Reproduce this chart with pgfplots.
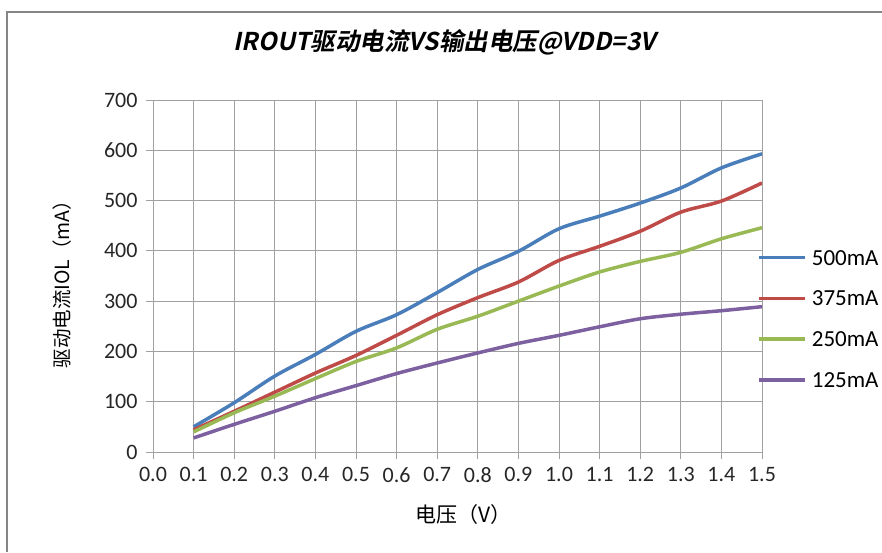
\documentclass[border=0pt]{standalone}
\usepackage{pgfplots}
\pgfplotsset{compat=1.18}
\usepackage{fontspec}
\setmainfont{Carlito}
\newfontfamily\cjk{Noto Sans CJK SC}
\newfontfamily\cjktitle[FakeSlant=0.2]{Noto Sans CJK SC Bold}
\definecolor{sblue}{HTML}{4A7EBB}
\definecolor{sred}{HTML}{BE4B48}
\definecolor{sgreen}{HTML}{98B954}
\definecolor{spurple}{HTML}{7D60A0}
\definecolor{gridgray}{HTML}{A0A0A0}
\definecolor{framegray}{HTML}{868686}
\begin{document}
\begin{tikzpicture}
\useasboundingbox (0pt,0pt) rectangle (882pt,552pt);
\draw[framegray, line width=2pt] (7pt,0pt) -- (7pt,540pt) -- (890pt,540pt);
\begin{axis}[
  at={(153pt,100pt)}, anchor=south west,
  scale only axis, width=609pt, height=352pt,
  xmin=0, xmax=1.5, ymin=0, ymax=700,
  xtick={0,0.1,0.2,0.3,0.4,0.5,0.6,0.7,0.8,0.9,1.0,1.1,1.2,1.3,1.4,1.5},
  xticklabels={0.0,0.1,0.2,0.3,0.4,0.5,0.6,0.7,0.8,0.9,1.0,1.1,1.2,1.3,1.4,1.5},
  ytick={0,100,200,300,400,500,600,700},
  /pgf/number format/assume math mode=true,
  ticklabel style={font=\fontsize{22}{26}\selectfont, text=black!85},
  xticklabel style={yshift=-5pt},
  yticklabel style={xshift=-5pt},
  tick pos=left, tick align=outside, major tick length=7pt,
  tick style={gridgray, line width=1pt},
  grid=major, major grid style={gridgray, line width=1pt},
  axis line style={gridgray, line width=1pt},
  title={\cjktitle IROUT驱动电流VS输出电压@VDD=3V},
  title style={at={(axis description cs:0.479,1.148)}, anchor=center, font=\fontsize{24.5}{28}\selectfont},
  xlabel={\cjk 电压（V）},
  xlabel style={at={(axis description cs:0.51,-0.179)}, anchor=center, font=\fontsize{21}{25}\selectfont},
  ylabel={\cjk 驱动电流IOL（mA）},
  ylabel style={at={(axis description cs:-0.149,0.49)}, anchor=center, rotate=0, font=\fontsize{19.5}{23}\selectfont},
  legend cell align=left,
  legend image code/.code={\draw[#1] (0pt,0pt) -- (46pt,0pt);},
  legend style={draw=none, fill=none, inner sep=0pt, font=\fontsize{23}{27}\selectfont,
    at={(axis description cs:0.992,0.574)}, anchor=north west,
    nodes={inner sep=0pt, text height=15pt, text depth=0pt},
    row sep=25.7pt, column sep=5pt},
  every axis plot/.append style={line width=3.5pt, smooth, no marks},
]
\addplot[sblue] coordinates {(0.1,50)(0.2,98)(0.3,151)(0.4,194)(0.5,240)(0.6,273)(0.7,317)(0.8,363)(0.9,399)(1.0,444)(1.1,469)(1.2,495)(1.3,525)(1.4,565)(1.5,593)};
\addlegendentry{500mA}
\addplot[sred] coordinates {(0.1,44)(0.2,81)(0.3,119)(0.4,157)(0.5,192)(0.6,232)(0.7,273)(0.8,307)(0.9,338)(1.0,381)(1.1,409)(1.2,439)(1.3,477)(1.4,499)(1.5,535)};
\addlegendentry{375mA}
\addplot[sgreen] coordinates {(0.1,40)(0.2,78)(0.3,111)(0.4,146)(0.5,180)(0.6,207)(0.7,244)(0.8,270)(0.9,300)(1.0,330)(1.1,358)(1.2,379)(1.3,397)(1.4,424)(1.5,446)};
\addlegendentry{250mA}
\addplot[spurple] coordinates {(0.1,28)(0.2,55)(0.3,81)(0.4,108)(0.5,132)(0.6,156)(0.7,177)(0.8,197)(0.9,216)(1.0,232)(1.1,249)(1.2,265)(1.3,274)(1.4,281)(1.5,289)};
\addlegendentry{125mA}
\end{axis}
\end{tikzpicture}
\end{document}
